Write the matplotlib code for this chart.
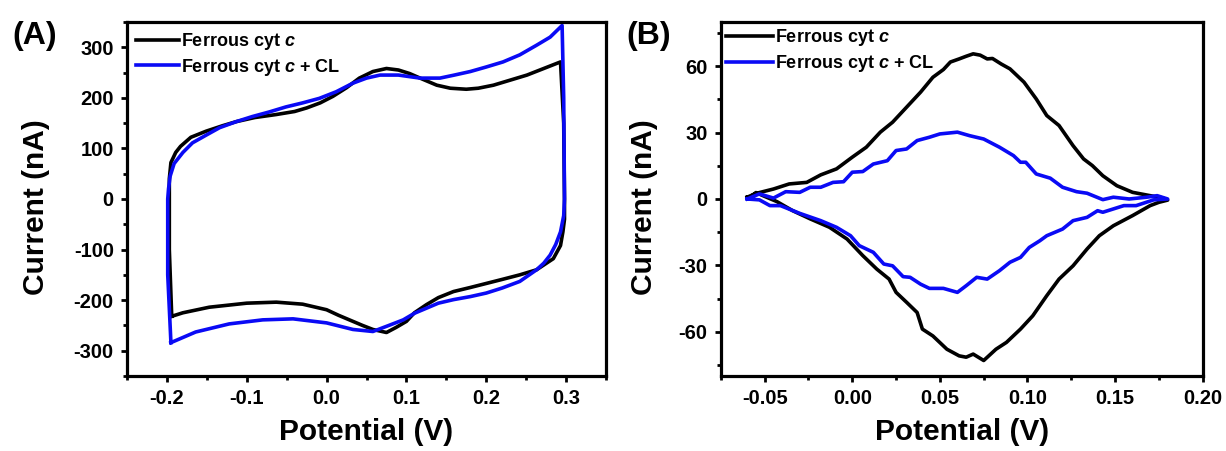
import numpy as np
import matplotlib
matplotlib.use('Agg')
from matplotlib import pyplot as plt
from matplotlib.ticker import MultipleLocator, FormatStrFormatter

plt.rcParams['font.family'] = ['Liberation Sans', 'DejaVu Sans']
plt.rcParams['font.weight'] = 'bold'
plt.rcParams['axes.unicode_minus'] = False
plt.rcParams['mathtext.fontset'] = 'custom'
plt.rcParams['mathtext.it'] = 'Liberation Sans:bold:italic'
plt.rcParams['mathtext.rm'] = 'Liberation Sans:bold'

labels = ['Ferrous cyt $c$', 'Ferrous cyt $c$ + CL']
colors = ['black', '#0a0af5']

# panel A: full CV loops (V, nA), upper sweep then lower sweep
a_black_x = [-0.194, -0.197, -0.197, -0.195, -0.189, -0.183, -0.170, -0.151, -0.130, -0.113,
             -0.090, -0.063, -0.040, -0.025, -0.008, 0.008, 0.025, 0.041, 0.058, 0.075,
             0.090, 0.104, 0.120, 0.138, 0.155, 0.175, 0.190, 0.209, 0.230, 0.251,
             0.272, 0.293, 0.297, 0.298, 0.298, 0.296, 0.293, 0.284, 0.263, 0.242,
             0.220, 0.200, 0.180, 0.159, 0.140, 0.125, 0.110, 0.100, 0.087, 0.075,
             0.058, 0.045, 0.033, 0.015, 0.000, -0.030, -0.063, -0.100, -0.147, -0.180, -0.194]
a_black_y = [-232, -100, 40, 72, 92, 104, 122, 134, 145, 153,
             161, 167, 173, 180, 190, 203, 220, 239, 252, 258,
             255, 248, 237, 225, 219, 217, 219, 225, 235, 245,
             258, 271, 150, 0, -40, -65, -92, -118, -140, -150,
             -159, -167, -175, -183, -195, -209, -225, -242, -254, -264,
             -258, -250, -242, -230, -219, -208, -204, -206, -214, -225, -232]

a_blue_x = [-0.195, -0.199, -0.199, -0.198, -0.196, -0.191, -0.180, -0.168, -0.150, -0.134,
            -0.113, -0.093, -0.072, -0.051, -0.030, -0.009, 0.012, 0.033, 0.050, 0.067,
            0.090, 0.117, 0.142, 0.160, 0.180, 0.200, 0.221, 0.242, 0.263, 0.280,
            0.295, 0.297, 0.298, 0.297, 0.293, 0.287, 0.280, 0.272, 0.263, 0.242,
            0.220, 0.200, 0.180, 0.159, 0.140, 0.125, 0.110, 0.096, 0.078, 0.058,
            0.033, 0.000, -0.042, -0.080, -0.122, -0.164, -0.195]
a_blue_y = [-284, -150, 0, 20, 45, 70, 92, 111, 127, 141,
            153, 163, 172, 182, 190, 199, 212, 229, 239, 245,
            245, 239, 239, 245, 252, 261, 271, 285, 304, 320,
            343, 200, 0, -33, -65, -90, -111, -127, -140, -163,
            -176, -186, -193, -199, -206, -216, -226, -239, -250, -262,
            -258, -245, -237, -239, -247, -263, -284]

# panel B: background-subtracted loops
b_black_up_x = [-0.060, -0.055, -0.050, -0.045, -0.036, -0.026, -0.018, -0.009, 0.000, 0.008,
                0.016, 0.023, 0.031, 0.039, 0.046, 0.052, 0.056, 0.061, 0.065, 0.069,
                0.073, 0.077, 0.080, 0.085, 0.090, 0.098, 0.105, 0.111, 0.118, 0.126,
                0.132, 0.137, 0.143, 0.151, 0.160, 0.170, 0.177, 0.180]
b_black_up_y = [0.8, 2.5, 3.5, 4.5, 6.8, 7.5, 10.9, 13.6, 18.9, 23.4,
                30.2, 34.7, 41.5, 48.3, 55.0, 58.5, 61.9, 63.3, 64.5, 65.6,
                65.0, 63.3, 63.5, 61.0, 58.8, 52.8, 45.2, 37.7, 33.2, 24.1,
                18.1, 15.1, 10.5, 6.0, 3.0, 1.5, 0.5, -0.5]
b_black_dn_x = [0.175, 0.170, 0.160, 0.149, 0.141, 0.134, 0.126, 0.118, 0.111, 0.103,
                0.096, 0.088, 0.082, 0.075, 0.069, 0.065, 0.061, 0.054, 0.046, 0.040,
                0.037, 0.031, 0.025, 0.021, 0.014, 0.006, -0.003, -0.013, -0.024, -0.034,
                -0.043, -0.051, -0.055, -0.058, -0.060]
b_black_dn_y = [-1.5, -3.0, -7.5, -12.1, -16.6, -22.6, -30.2, -36.2, -43.7, -52.8,
                -58.8, -64.8, -67.9, -73.0, -70.1, -71.5, -70.9, -67.9, -61.9, -58.8,
                -51.3, -46.7, -42.2, -36.2, -31.7, -25.6, -18.1, -12.8, -9.0, -5.3,
                -1.2, 1.5, 2.9, 1.0, 0.8]

b_blue_up_x = [-0.060, -0.053, -0.045, -0.038, -0.030, -0.024, -0.018, -0.011, -0.005, 0.000,
               0.006, 0.012, 0.020, 0.025, 0.031, 0.037, 0.044, 0.050, 0.055, 0.060,
               0.067, 0.075, 0.084, 0.092, 0.096, 0.099, 0.105, 0.113, 0.120, 0.128,
               0.134, 0.143, 0.149, 0.158, 0.168, 0.174, 0.180]
b_blue_up_y = [0.0, 2.3, 0.4, 3.3, 3.0, 5.3, 5.3, 7.5, 7.8, 12.1,
               12.4, 15.8, 17.3, 21.9, 22.6, 26.4, 27.9, 29.4, 29.8, 30.2,
               28.6, 27.1, 23.4, 19.6, 16.6, 16.6, 11.3, 9.4, 5.3, 3.3,
               2.6, -0.3, 0.8, 0.0, 0.8, 1.5, 0.0]
b_blue_dn_x = [0.172, 0.162, 0.155, 0.149, 0.143, 0.140, 0.134, 0.126, 0.120, 0.111,
               0.107, 0.101, 0.096, 0.090, 0.084, 0.077, 0.071, 0.065, 0.060, 0.052,
               0.044, 0.039, 0.033, 0.029, 0.023, 0.018, 0.012, 0.004, -0.001, -0.009,
               -0.018, -0.030, -0.041, -0.047, -0.053, -0.060]
b_blue_dn_y = [-0.4, -3.0, -3.0, -4.5, -6.0, -5.3, -8.3, -9.8, -13.6, -16.6,
               -18.9, -21.9, -26.4, -28.6, -32.4, -36.2, -35.4, -39.2, -42.2, -40.4,
               -40.4, -38.5, -35.4, -35.1, -30.2, -29.4, -24.1, -21.1, -16.6, -12.8,
               -9.8, -6.5, -3.0, -3.0, -0.4, 0.0]


def style_axes(ax, xmaj, xfmt, ymaj, ylab_x):
    for sp in ax.spines.values():
        sp.set_linewidth(2.3)
    ax.xaxis.set_major_locator(MultipleLocator(xmaj))
    ax.xaxis.set_minor_locator(MultipleLocator(xmaj / 2))
    ax.xaxis.set_major_formatter(FormatStrFormatter(xfmt))
    ax.yaxis.set_major_locator(MultipleLocator(ymaj))
    ax.yaxis.set_minor_locator(MultipleLocator(ymaj / 2))
    ax.tick_params(which='both', direction='out', top=False, right=False, width=2.0)
    ax.tick_params(which='major', length=4.5, labelsize=14.5, pad=5)
    ax.tick_params(which='minor', length=3)
    for t in ax.get_xticklabels() + ax.get_yticklabels():
        t.set_fontweight('bold')
    ax.set_xlabel('Potential (V)', fontsize=21.5, fontweight='bold')
    ax.set_ylabel('Current (nA)', fontsize=21.5, fontweight='bold')
    ax.xaxis.set_label_coords(0.5, -0.12)
    ax.yaxis.set_label_coords(ylab_x, 0.477)


fig = plt.figure(figsize=(12.26, 4.51), dpi=100)

ax1 = fig.add_axes((0.1036, 0.1663, 0.3907, 0.785))
ax1.plot(a_black_x, a_black_y, color=colors[0], lw=2.6, label=labels[0])
ax1.plot(a_blue_x, a_blue_y, color=colors[1], lw=2.6, label=labels[1])
ax1.set_xlim(-0.25, 0.35)
ax1.set_ylim(-350, 350)
style_axes(ax1, 0.1, '%.1f', 100, -0.16)
ax1.legend(loc='upper left', frameon=False, fontsize=13, handlelength=2.4,
           handletextpad=0.1, labelspacing=0.25, borderaxespad=0.3, borderpad=0.2)

ax2 = fig.add_axes((0.588, 0.1663, 0.393, 0.785))
ax2.plot(b_black_up_x + b_black_dn_x, b_black_up_y + b_black_dn_y, color=colors[0], lw=2.6,
         label=labels[0])
ax2.plot(b_blue_up_x + b_blue_dn_x, b_blue_up_y + b_blue_dn_y, color=colors[1], lw=2.6,
         label=labels[1])
ax2.set_xlim(-0.075, 0.20)
ax2.set_ylim(-80, 80)
style_axes(ax2, 0.05, '%.2f', 30, -0.13)
ax2.legend(loc='upper left', frameon=False, fontsize=13, handlelength=2.6,
           handletextpad=0.1, labelspacing=0.25, borderaxespad=0.0, borderpad=0.3)

fig.text(12 / 1226, 1 - 36 / 451, '(A)', fontsize=23, fontweight='bold', va='center', ha='left')
fig.text(626 / 1226, 1 - 36 / 451, '(B)', fontsize=23, fontweight='bold', va='center', ha='left')

fig.savefig('out.png', dpi=100)
